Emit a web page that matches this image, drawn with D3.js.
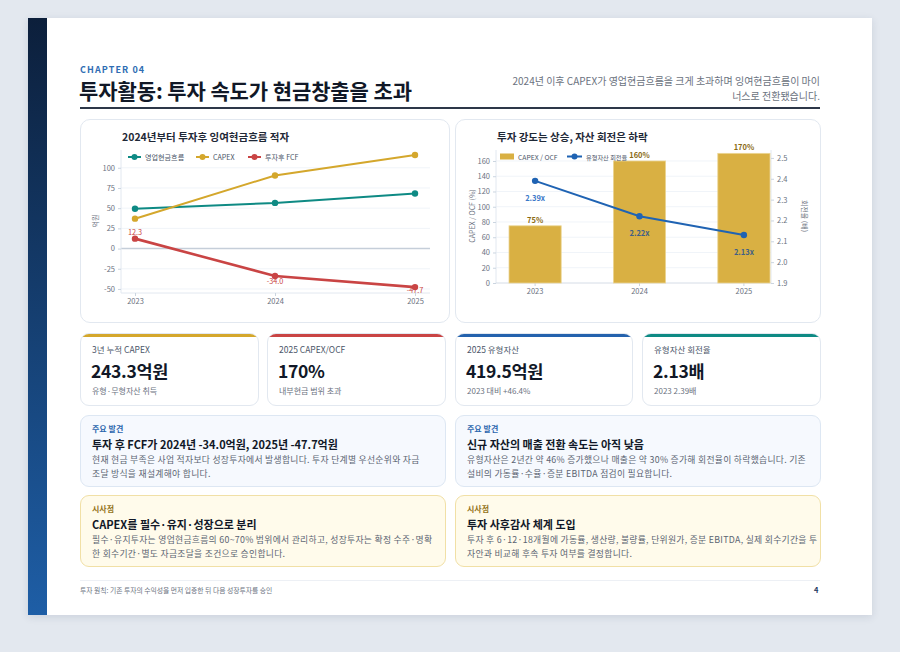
<!DOCTYPE html>
<html><head><meta charset="utf-8">
<script src="https://cdn.jsdelivr.net/npm/d3@7/dist/d3.min.js"></script>
<style>
html,body{margin:0;padding:0;}
body{width:900px;height:652px;background:#e3e8ef;position:relative;overflow:hidden;font-family:"Noto Sans CJK KR","Noto Sans",sans-serif;}
.abs{position:absolute;box-sizing:border-box;}
#page{left:28px;top:18px;width:844px;height:597px;background:#fff;box-shadow:0 2px 8px rgba(30,50,80,0.12);}
#side{left:28px;top:18px;width:19px;height:597px;background:linear-gradient(#0c1f3b,#1e5ea6);}
#chap{left:80px;top:63px;font-size:9px;font-weight:700;color:#2f6db3;letter-spacing:1.1px;}
#title{left:79px;top:75px;font-size:21px;font-weight:700;color:#111827;letter-spacing:-0.1px;}
#sub{left:440px;top:73px;width:380px;text-align:right;font-size:10px;line-height:15px;color:#6b7280;}
#rule{left:80px;top:107px;width:740px;height:2px;background:#2d3748;}
.card{border:1px solid #e2e8f0;border-radius:10px;background:#fff;}
.kpi{border:1px solid #e2e8f0;border-radius:9px;background:#fff;overflow:hidden;}
.kpi .bar{position:absolute;left:0;top:0;right:0;height:3px;}
.kpi .lab{position:absolute;left:11px;top:9px;font-size:8.5px;color:#4a5568;}
.kpi .val{position:absolute;left:10px;top:24px;font-size:17.5px;font-weight:700;color:#111827;letter-spacing:-0.3px;}
.kpi .cap{position:absolute;left:11px;top:51px;font-size:8px;color:#6b7280;}
.note{border-radius:9px;}
.note .tag{position:absolute;left:11px;top:7px;font-size:8px;font-weight:700;}
.note .hd{position:absolute;left:11px;top:20px;font-size:11px;font-weight:700;color:#111827;}
.note .bd{position:absolute;left:11px;top:37px;font-size:8.8px;line-height:14px;color:#5b6472;letter-spacing:0.3px;white-space:nowrap;}
#foot{left:80px;top:580px;width:740px;height:1px;background:#edf0f5;}
#ftxt{left:80px;top:585px;font-size:6.8px;color:#6b7280;}
#fnum{left:814px;top:584px;font-size:7.5px;font-weight:700;color:#1e3a5f;}
svg{position:absolute;left:0;top:0;}
</style></head>
<body>
<div id="page" class="abs"></div>
<div id="side" class="abs"></div>
<div id="chap" class="abs">CHAPTER 04</div>
<div id="title" class="abs">투자활동: 투자 속도가 현금창출을 초과</div>
<div id="sub" class="abs">2024년 이후 CAPEX가 영업현금흐름을 크게 초과하며 잉여현금흐름이 마이<br>너스로 전환됐습니다.</div>
<div id="rule" class="abs"></div>
<div class="abs card" style="left:80px;top:119px;width:370px;height:204px;"></div>
<div class="abs card" style="left:455px;top:119px;width:366px;height:204px;"></div>
<div id="kpis"></div>
<div id="notes"></div>
<div id="foot" class="abs"></div>
<div id="ftxt" class="abs">투자 원칙: 기존 투자의 수익성을 먼저 입증한 뒤 다음 성장투자를 승인</div>
<div id="fnum" class="abs">4</div>
<svg id="chart" width="900" height="652"></svg>
<script>
// ---------- data ----------
const years = ["2023","2024","2025"];
const ocf = [49.3, 56.5, 68.1];
const capex = [37.0, 90.5, 115.8];
const fcf = [12.3, -34.0, -47.7];
const fcfLabels = ["12.3","-34.0","-47.7"];
const leftTicks = [-50,-25,0,25,50,75,100];
const capexOcf = [75, 160, 170];
const capexOcfLabels = ["75%","160%","170%"];
const turnover = [2.39, 2.22, 2.13];
const turnoverLabels = ["2.39x","2.22x","2.13x"];
const pctTicks = [0,20,40,60,80,100,120,140,160];
const turnTicks = [1.9,2.0,2.1,2.2,2.3,2.4,2.5];

const kpiLabels = ["3년 누적 CAPEX","2025 CAPEX/OCF","2025 유형자산","유형자산 회전율"];
const kpiValues = ["243.3억원","170%","419.5억원","2.13배"];
const kpiCaps = ["유형·무형자산 취득","내부현금 범위 초과","2023 대비 +46.4%","2023 2.39배"];

const noteTags = ["주요 발견","주요 발견","시사점","시사점"];
const noteTitles = ["투자 후 FCF가 2024년 -34.0억원, 2025년 -47.7억원","신규 자산의 매출 전환 속도는 아직 낮음","CAPEX를 필수·유지·성장으로 분리","투자 사후감사 체계 도입"];
const noteBodies = [
 ["현재 현금 부족은 사업 적자보다 성장투자에서 발생합니다. 투자 단계별 우선순위와 자금","조달 방식을 재설계해야 합니다."],
 ["유형자산은 2년간 약 46% 증가했으나 매출은 약 30% 증가해 회전율이 하락했습니다. 기존","설비의 가동률·수율·증분 EBITDA 점검이 필요합니다."],
 ["필수·유지투자는 영업현금흐름의 60~70% 범위에서 관리하고, 성장투자는 확정 수주·명확","한 회수기간·별도 자금조달을 조건으로 승인합니다."],
 ["투자 후 6·12·18개월에 가동률, 생산량, 불량률, 단위원가, 증분 EBITDA, 실제 회수기간을 투","자안과 비교해 후속 투자 여부를 결정합니다."]
];

// ---------- KPI cards ----------
const kpiX = [80,267,455,642], kpiW = [179,179,178,179];
const kpiColors = ["#d4a72c","#c94444","#2462ad","#0e8a84"];
const kd = d3.select("#kpis").selectAll("div").data(kpiLabels).join("div")
  .attr("class","abs kpi")
  .style("left",(d,i)=>kpiX[i]+"px").style("top","333px")
  .style("width",(d,i)=>kpiW[i]+"px").style("height","73px");
kd.append("div").attr("class","bar").style("background",(d,i)=>kpiColors[i]);
kd.append("div").attr("class","lab").text(d=>d);
kd.append("div").attr("class","val").text((d,i)=>kpiValues[i]);
kd.append("div").attr("class","cap").text((d,i)=>kpiCaps[i]);

// ---------- notes ----------
const noteX = [80,455,80,455], noteY=[415,415,495,495];
const noteBg = ["#f6f9fe","#f6f9fe","#fffbeb","#fffbeb"];
const noteBorder = ["#dde7f3","#dde7f3","#f1e0a6","#f1e0a6"];
const noteTagColor = ["#2b66ad","#2b66ad","#94741a","#94741a"];
const nd = d3.select("#notes").selectAll("div").data(noteTitles).join("div")
  .attr("class","abs note")
  .style("left",(d,i)=>noteX[i]+"px").style("top",(d,i)=>noteY[i]+"px")
  .style("width","366px").style("height","72px")
  .style("background",(d,i)=>noteBg[i]).style("border",(d,i)=>"1px solid "+noteBorder[i]);
nd.append("div").attr("class","tag").style("color",(d,i)=>noteTagColor[i]).text((d,i)=>noteTags[i]);
nd.append("div").attr("class","hd").text(d=>d);
nd.append("div").attr("class","bd").html((d,i)=>noteBodies[i].join("<br>"));

// ---------- charts ----------
const svg = d3.select("#chart");
const F = '"Noto Sans CJK KR","Noto Sans",sans-serif';
const tickCol = "#6b7280";

// Left chart
{
  const g = svg.append("g");
  const x = d3.scalePoint().domain(years).range([135,415]);
  const y = d3.scaleLinear().domain([-55,122]).range([293,150]);
  g.append("text").attr("x",122).attr("y",141).attr("font-family",F).attr("font-size",10.5).attr("font-weight",700).attr("fill","#1f2937").text("2024년부터 투자후 잉여현금흐름 적자");
  g.selectAll(".gl").data(leftTicks).join("line").attr("x1",121).attr("x2",430)
    .attr("y1",d=>y(d)).attr("y2",d=>y(d)).attr("stroke",d=>d===0?"#c5ced9":"#f0f4f9").attr("stroke-width",d=>d===0?1.5:1);
  const ya = g.append("g").attr("transform","translate(121,0)").call(d3.axisLeft(y).tickValues(leftTicks).tickSize(3).tickFormat(d=>String(d)));
  ya.select(".domain").attr("stroke","#e2e8f0").attr("d","M0,150V293");
  ya.selectAll(".tick line").attr("stroke","#cbd5e0");
  ya.selectAll("text").attr("font-family",F).attr("font-size",7.5).attr("fill",tickCol);
  const xa = g.append("g").attr("transform","translate(0,293)").call(d3.axisBottom(x).tickSize(3));
  xa.select(".domain").attr("stroke","#e2e8f0").attr("d","M121,0H430");
  xa.selectAll(".tick line").attr("stroke","#cbd5e0");
  xa.selectAll("text").attr("font-family",F).attr("font-size",7.5).attr("fill",tickCol);
  g.append("text").attr("transform","translate(98,221) rotate(-90)").attr("text-anchor","middle").attr("font-family",F).attr("font-size",7).attr("fill",tickCol).text("억원");
  const series = [{n:"영업현금흐름",v:ocf,c:"#0e8a84",w:2},{n:"CAPEX",v:capex,c:"#d4a72c",w:2},{n:"투자후 FCF",v:fcf,c:"#c94444",w:2.6}];
  const line = d3.line().x((d,i)=>x(years[i])).y(d=>y(d));
  series.forEach(s=>{
    g.append("path").attr("d",line(s.v)).attr("fill","none").attr("stroke",s.c).attr("stroke-width",s.w);
    g.selectAll(null).data(s.v).join("circle").attr("cx",(d,i)=>x(years[i])).attr("cy",d=>y(d)).attr("r",3.2).attr("fill",s.c);
  });
  g.selectAll(".fl").data(fcf).join("text").attr("x",(d,i)=>x(years[i])).attr("y",(d,i)=>i===0?y(d)-4:(i===2?y(d)+6:y(d)+8))
    .attr("text-anchor","middle").attr("font-family",F).attr("font-size",7.3).attr("fill","#c94444").text((d,i)=>fcfLabels[i]);
  const lx = [128,196,248];
  series.forEach((s,i)=>{
    g.append("line").attr("x1",lx[i]).attr("x2",lx[i]+13).attr("y1",157).attr("y2",157).attr("stroke",s.c).attr("stroke-width",2);
    g.append("circle").attr("cx",lx[i]+6.5).attr("cy",157).attr("r",3).attr("fill",s.c);
    g.append("text").attr("x",lx[i]+17).attr("y",159.5).attr("font-family",F).attr("font-size",7.1).attr("fill","#4a5568").text(s.n);
  });
}

// Right chart
{
  const g = svg.append("g");
  const x = d3.scaleBand().domain(years).range([509,770]).paddingInner(0.5).paddingOuter(0);
  const yL = d3.scaleLinear().domain([0,174.4]).range([283,150]);
  const yR = d3.scaleLinear().domain([1.9,2.538]).range([283,150]);
  g.append("text").attr("x",497).attr("y",141).attr("font-family",F).attr("font-size",10.5).attr("font-weight",700).attr("fill","#1f2937").text("투자 강도는 상승, 자산 회전은 하락");
  g.selectAll(".gl").data(pctTicks.slice(1)).join("line").attr("x1",496).attr("x2",771)
    .attr("y1",d=>yL(d)).attr("y2",d=>yL(d)).attr("stroke","#f0f4f9");
  const la = g.append("g").attr("transform","translate(496,0)").call(d3.axisLeft(yL).tickValues(pctTicks).tickSize(3));
  la.select(".domain").attr("stroke","#e2e8f0").attr("d","M0,150V283");
  const ra = g.append("g").attr("transform","translate(771,0)").call(d3.axisRight(yR).tickValues(turnTicks).tickSize(3).tickFormat(d3.format(".1f")));
  ra.select(".domain").attr("stroke","#e2e8f0").attr("d","M0,150V283");
  const xa = g.append("g").attr("transform","translate(0,283)").call(d3.axisBottom(x).tickSize(3));
  xa.select(".domain").attr("stroke","#d5dce6").attr("d","M496,0H771");
  [la,ra,xa].forEach(a=>{a.selectAll(".tick line").attr("stroke","#cbd5e0");a.selectAll("text").attr("font-family",F).attr("font-size",7.5).attr("fill",tickCol);});
  g.append("text").attr("transform","translate(475,216) rotate(-90)").attr("text-anchor","middle").attr("font-family",F).attr("font-size",7).attr("fill",tickCol).text("CAPEX / OCF (%)");
  g.append("text").attr("transform","translate(802,216) rotate(90)").attr("text-anchor","middle").attr("font-family",F).attr("font-size",7).attr("fill",tickCol).text("회전율 (배)");
  g.selectAll(".bar").data(capexOcf).join("rect").attr("x",(d,i)=>x(years[i])).attr("width",x.bandwidth())
    .attr("y",d=>yL(d)).attr("height",d=>283-yL(d)).attr("fill","#d9b043").attr("stroke","#ecd594").attr("stroke-width",0.8);
  g.selectAll(".bl").data(capexOcf).join("text").attr("x",(d,i)=>x(years[i])+x.bandwidth()/2).attr("y",d=>yL(d)-3)
    .attr("text-anchor","middle").attr("font-family",F).attr("font-size",7.5).attr("font-weight",700).attr("fill","#8a6a14").text((d,i)=>capexOcfLabels[i]);
  const cx = (i)=>x(years[i])+x.bandwidth()/2;
  const line = d3.line().x((d,i)=>cx(i)).y(d=>yR(d));
  g.append("path").attr("d",line(turnover)).attr("fill","none").attr("stroke","#1f63b3").attr("stroke-width",2);
  g.selectAll(".tp").data(turnover).join("circle").attr("cx",(d,i)=>cx(i)).attr("cy",d=>yR(d)).attr("r",3.2).attr("fill","#1f63b3");
  g.selectAll(".tl").data(turnover).join("text").attr("x",(d,i)=>cx(i)).attr("y",d=>yR(d)+20)
    .attr("text-anchor","middle").attr("font-family",F).attr("font-size",7.5).attr("font-weight",600).attr("fill",(d,i)=>i===0?"#3a78c9":"#3f5f86").text((d,i)=>turnoverLabels[i]);
  g.append("rect").attr("x",500).attr("y",153.5).attr("width",14).attr("height",6).attr("fill","#d9b043");
  g.append("text").attr("x",518).attr("y",159.5).attr("font-family",F).attr("font-size",6.8).attr("fill","#4a5568").text("CAPEX / OCF");
  g.append("line").attr("x1",567).attr("x2",582).attr("y1",156.5).attr("y2",156.5).attr("stroke","#1f63b3").attr("stroke-width",2);
  g.append("circle").attr("cx",574.5).attr("cy",156.5).attr("r",3).attr("fill","#1f63b3");
  g.append("text").attr("x",586).attr("y",159.5).attr("font-family",F).attr("font-size",6.2).attr("fill","#4a5568").text("유형자산 회전율");
}
</script>
</body></html>
